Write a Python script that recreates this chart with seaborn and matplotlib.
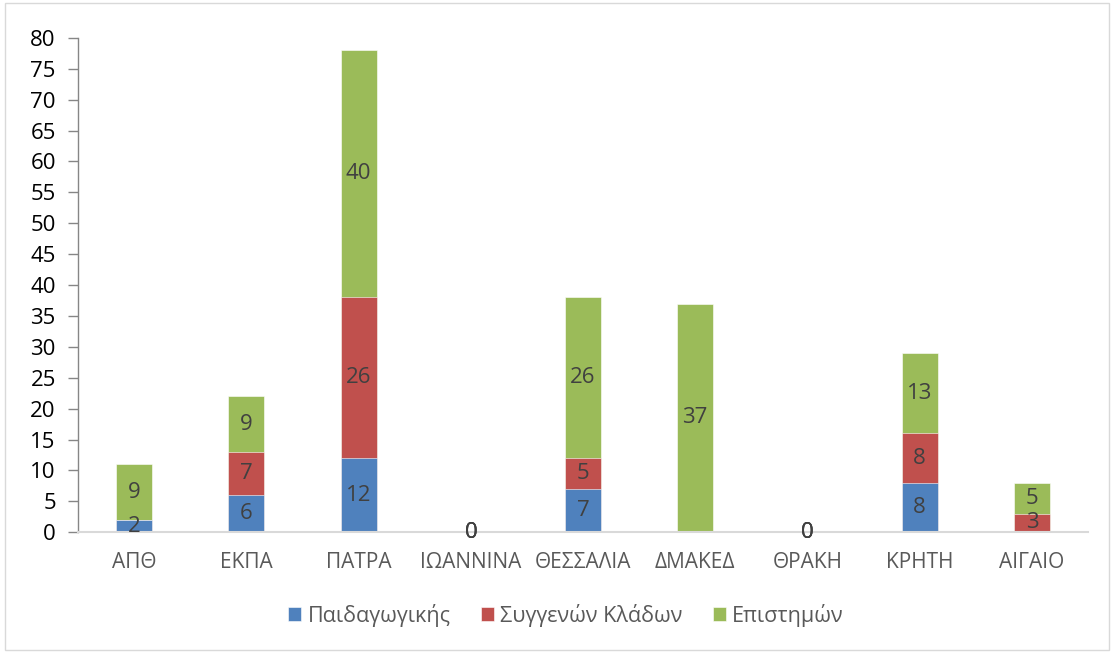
import numpy as np
import pandas as pd
import matplotlib
matplotlib.use("Agg")
import matplotlib.pyplot as plt
import seaborn as sns
from matplotlib.patches import Rectangle

categories = ["ΑΠΘ", "ΕΚΠΑ", "ΠΑΤΡΑ", "ΙΩΑΝΝΙΝΑ", "ΘΕΣΣΑΛΙΑ", "ΔΜΑΚΕΔ", "ΘΡΑΚΗ", "ΚΡΗΤΗ", "ΑΙΓΑΙΟ"]
paidagogikis = [2, 6, 12, 0, 7, np.nan, 0, 8, np.nan]
syggenon = [np.nan, 7, 26, 0, 5, np.nan, 0, 8, 3]
epistimon = [9, 9, 40, 0, 26, 37, 0, 13, 5]
series_names = ["Παιδαγωγικής", "Συγγενών Κλάδων", "Επιστημών"]
colors = ["#4F81BD", "#C0504D", "#9BBB59"]
yticks = list(range(0, 81, 5))

sns.set_theme(style="white")
plt.rcParams["font.family"] = ["Open Sans", "DejaVu Sans"]

vals = np.array([paidagogikis, syggenon, epistimon], dtype=float)
filled = np.nan_to_num(vals)
cum = np.cumsum(filled, axis=0)

fig = plt.figure(figsize=(11.14, 6.53), dpi=100)
ax = fig.add_axes([0.070, 0.185, 0.9067, 0.757])

# draw from top layer down so lower layers overlay
for i in [2, 1, 0]:
    df = pd.DataFrame({"cat": categories, "val": cum[i]})
    sns.barplot(data=df, x="cat", y="val", color=colors[i], width=0.32,
                saturation=1, ax=ax, label=series_names[i],
                edgecolor="white", linewidth=0.4)

# data labels
for i in range(3):
    for j in range(len(categories)):
        v = vals[i, j]
        if np.isnan(v):
            continue
        base = cum[i, j] - filled[i, j]
        ax.text(j, base + v / 2, f"{int(v)}", ha="center", va="center",
                fontsize=16, color="#404040")

ax.set_ylim(0, 80)
ax.set_xlim(-0.5, len(categories) - 0.5)
ax.set_yticks(yticks)
ax.set_yticklabels([str(t) for t in yticks], fontsize=16, color="black")
ax.tick_params(axis="y", which="major", direction="out", length=7, width=1,
               color="#868686", pad=9, left=True)
ax.tick_params(axis="x", length=0, pad=14, labelsize=15, labelcolor="#595959")
ax.set_xlabel("")
ax.set_ylabel("")
for s in ["top", "right"]:
    ax.spines[s].set_visible(False)
ax.spines["left"].set_color("#868686")
ax.spines["left"].set_linewidth(1)
ax.spines["bottom"].set_color("#D9D9D9")
ax.spines["bottom"].set_linewidth(1.5)
ax.grid(False)

handles, labels = ax.get_legend_handles_labels()
if ax.get_legend() is not None:
    ax.get_legend().remove()
order = [series_names.index(l) for l in labels]
hl = sorted(zip(order, handles, labels))
leg = fig.legend([h for _, h, _ in hl], [l for _, _, l in hl], loc="center",
                 bbox_to_anchor=(0.508, 0.058), ncol=3, frameon=False,
                 fontsize=15.5, handlelength=0.6, handleheight=0.6,
                 columnspacing=1.4, handletextpad=0.3)
for t in leg.get_texts():
    t.set_color("#595959")

fig.patches.append(Rectangle((5 / 1114, 1 - 650 / 653), 1104 / 1114, 647 / 653,
                             transform=fig.transFigure, fill=False,
                             edgecolor="#D9D9D9", linewidth=1))

fig.savefig("out.png", dpi=100)
